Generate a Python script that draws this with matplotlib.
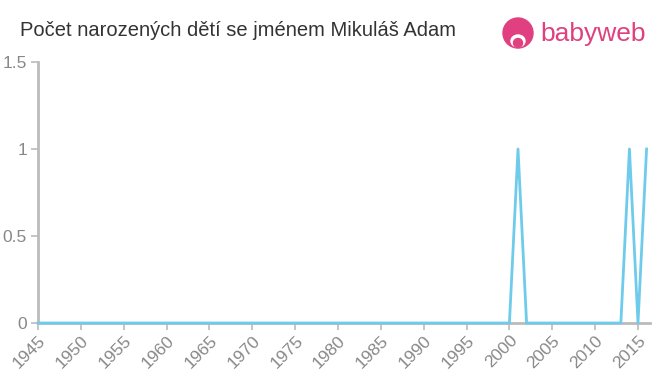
import matplotlib
matplotlib.use("Agg")
import matplotlib.pyplot as plt
from matplotlib.patches import Circle, Ellipse

plt.rcParams["font.family"] = ["Liberation Sans", "DejaVu Sans"]

years = list(range(1945, 2017))
ones = [2001, 2014, 2016]
counts = [1 if y in ones else 0 for y in years]
xticks = list(range(1945, 2016, 5))
yticks = [0, 0.5, 1, 1.5]
ytick_labels = ["0", "0.5", "1", "1.5"]

fig = plt.figure(figsize=(6.6, 3.75), dpi=100)
ax = fig.add_axes([38/660, 1-323/375, (650-38)/660, (323-62)/375])
ax.plot(years, counts, color="#6ecbeb", lw=2, clip_on=False, zorder=3)
ax.set_xlim(1945, 2016.4)
ax.set_ylim(0, 1.5)
ax.set_xticks(xticks)
ax.set_xticklabels([str(x) for x in xticks], rotation=45, ha="right", va="top",
                   rotation_mode="anchor")
ax.set_yticks(yticks)
ax.set_yticklabels(ytick_labels)
for s in ["top", "right"]:
    ax.spines[s].set_visible(False)
for s in ["left", "bottom"]:
    ax.spines[s].set_color("#bbbbbb")
    ax.spines[s].set_linewidth(2)
    ax.spines[s].set_zorder(2.5)
ax.tick_params(axis="both", colors="#bbbbbb", length=5, width=1.2, labelcolor="#888888",
               labelsize=12.5)
ax.tick_params(axis="x", pad=2)
ax.tick_params(axis="y", pad=3)

fig.text(20/660, 1-31/375, "Počet narozených dětí se jménem Mikuláš Adam",
         fontsize=14.5, color="#333333", va="center", ha="left")
# logo
pink = "#e0407f"
logo_ax = fig.add_axes([0, 0, 1, 1], facecolor="none")
logo_ax.set_xlim(0, 660)
logo_ax.set_ylim(375, 0)
logo_ax.axis("off")
logo_ax.add_patch(Circle((518, 33), 15, color=pink))
logo_ax.add_patch(Ellipse((518, 41), 14, 12, color="white"))
logo_ax.add_patch(Circle((518, 43), 4.5, color=pink))
fig.text(540/660, 1-34/375, "babyweb", fontsize=19, color=pink, va="center", ha="left")

fig.savefig("out.png", dpi=100)
